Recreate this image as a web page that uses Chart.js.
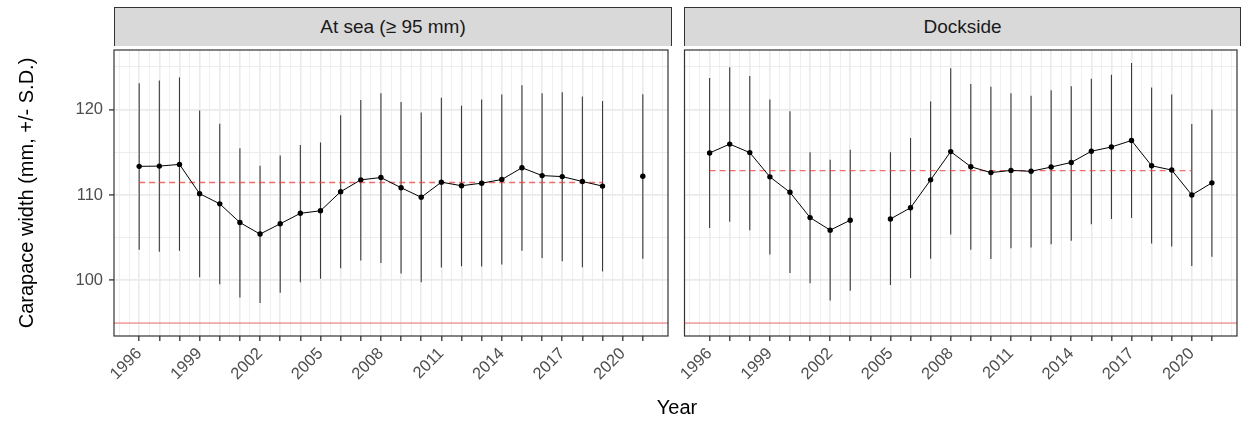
<!DOCTYPE html>
<html>
<head>
<meta charset="utf-8">
<script src="https://cdn.jsdelivr.net/npm/chart.js@4/dist/chart.umd.min.js"></script>
<style>
  body { margin: 0; background: #fff; font-family: "Liberation Sans", Arial, sans-serif; }
  #wrap { position: relative; width: 1241px; height: 421px; overflow: hidden; }
  canvas { position: absolute; }
  .strip {
    position: absolute; top: 7px; height: 38px; box-sizing: content-box;
    background: #d9d9d9; border: 1px solid #333; border-bottom: 0;
    font-size: 19px; color: #1a1a1a; text-align: center; line-height: 38px;
  }
  #xtitle { position: absolute; left: 114px; width: 1126px; top: 396px; text-align: center; font-size: 20px; color: #000; }
</style>
</head>
<body>
<div id="wrap">
  <div class="strip" style="left:114px;width:556px;">At sea (≥ 95 mm)</div>
  <div class="strip" style="left:684px;width:555px;">Dockside</div>
  <canvas id="sea" width="672" height="375" style="left:0;top:46px;"></canvas>
  <canvas id="dock" width="569" height="375" style="left:672px;top:46px;"></canvas>
  <div id="xtitle">Year</div>
</div>
<script>
const years = [1996, 1997, 1998, 1999, 2000, 2001, 2002, 2003, 2004, 2005, 2006, 2007, 2008,
  2009, 2010, 2011, 2012, 2013, 2014, 2015, 2016, 2017, 2018, 2019, 2020, 2021];

// At sea (>= 95 mm): yearly mean and mean +/- S.D.
const seaMean = [113.35, 113.38, 113.58, 110.15, 108.96, 106.77, 105.42, 106.62, 107.85, 108.15, 110.38, 111.77, 112.04,
  110.85, 109.73, 111.5, 111.08, 111.38, 111.81, 113.19, 112.27, 112.15, 111.58, 111.04, null, 112.19];
const seaLower = [103.58, 103.35, 103.46, 100.35, 99.54, 98.0, 97.35, 98.54, 99.77, 100.19, 101.42, 102.31, 102.04,
  100.81, 99.77, 101.5, 101.65, 101.62, 101.85, 103.46, 102.62, 102.23, 101.54, 101.04, null, 102.54];
const seaUpper = [123.08, 123.42, 123.77, 119.88, 118.35, 115.46, 113.42, 114.62, 115.85, 116.15, 119.35, 121.12, 121.92,
  120.88, 119.65, 121.38, 120.46, 121.19, 121.77, 122.85, 121.92, 122.04, 121.54, 121.0, null, 121.81];

// Dockside
const dockMean = [114.92, 115.96, 114.96, 112.12, 110.31, 107.35, 105.88, 107.04, null, 107.19, 108.5, 111.77, 115.08,
  113.31, 112.62, 112.88, 112.77, 113.27, 113.81, 115.12, 115.62, 116.38, 113.42, 112.92, 110.0, 111.42];
const dockLower = [106.12, 106.85, 105.88, 103.04, 100.85, 99.65, 97.65, 98.77, null, 99.46, 100.27, 102.54, 105.38,
  103.58, 102.5, 103.77, 103.85, 104.23, 104.65, 106.58, 107.19, 107.31, 104.31, 103.96, 101.69, 102.77];
const dockUpper = [123.69, 124.96, 123.92, 121.19, 119.81, 115.0, 114.12, 115.31, null, 115.0, 116.69, 120.96, 124.85,
  123.0, 122.69, 121.92, 121.62, 122.27, 122.73, 123.62, 124.08, 125.46, 122.58, 121.77, 118.31, 120.0];

// overall means (dashed) and their year span, minimum size (solid)
const seaOverall = 111.46;
const seaOverallYears = [1996, 2019];
const dockOverall = 112.85;
const dockOverallYears = [1996, 2020];
const minSize = 95;

const yTicks = [95, 100, 105, 110, 115, 120, 125];
const yLabels = [100, 110, 120];
const xLabelEvery = 3;

const FONT = "'Liberation Sans', Arial, sans-serif";
const X_MIN = 1994.75, X_MAX = 2022.25;
const Y_MIN = 93.48, Y_MAX = 126.98;

const isMajorYear = (v) => Number.isInteger(v) && v >= years[0] && v <= years[years.length - 1];

const errorBars = {
  id: "errorBars",
  beforeDatasetsDraw(chart, args, opts) {
    const { ctx, scales } = chart;
    ctx.save();
    ctx.strokeStyle = "#3a3a3a";
    ctx.lineWidth = 1.1;
    years.forEach((yr, i) => {
      if (opts.lower[i] == null) return;
      const x = scales.x.getPixelForValue(yr);
      ctx.beginPath();
      ctx.moveTo(x, scales.y.getPixelForValue(opts.lower[i]));
      ctx.lineTo(x, scales.y.getPixelForValue(opts.upper[i]));
      ctx.stroke();
    });
    ctx.restore();
  },
};

const panelBorder = {
  id: "panelBorder",
  afterDraw(chart) {
    const { ctx, chartArea: a } = chart;
    ctx.save();
    ctx.strokeStyle = "#333";
    ctx.lineWidth = 1.2;
    ctx.strokeRect(a.left, a.top, a.right - a.left, a.bottom - a.top);
    ctx.restore();
  },
};

const makePanel = (canvasId, mean, lower, upper, overall, overallYears, first) => {
  const points = years.map((yr, i) => ({ x: yr, y: mean[i] }));
  const halfYears = [];
  for (let v = 1995; v <= 2022; v += 0.5) halfYears.push(v);

  new Chart(document.getElementById(canvasId), {
    type: "line",
    data: {
      datasets: [
        {
          data: [{ x: X_MIN, y: minSize }, { x: X_MAX, y: minSize }],
          borderColor: "rgba(240, 70, 70, 0.5)",
          borderWidth: 1.5,
          pointRadius: 0,
        },
        {
          data: points,
          borderColor: "#000",
          borderWidth: 1,
          pointRadius: 2.7,
          pointBackgroundColor: "#000",
          pointBorderWidth: 0,
          spanGaps: false,
          tension: 0,
        },
        {
          data: overallYears.map((yr) => ({ x: yr, y: overall })),
          borderColor: "rgba(240, 60, 60, 0.75)",
          borderWidth: 1.4,
          borderDash: [6, 4],
          pointRadius: 0,
        },
      ],
    },
    options: {
      responsive: false,
      animation: false,
      devicePixelRatio: 1,
      layout: { padding: { left: first ? 0 : 12.5, right: 1, top: 0, bottom: 0 } },
      plugins: {
        legend: { display: false },
        tooltip: { enabled: false },
        errorBars: { lower, upper },
      },
      scales: {
        x: {
          type: "linear",
          min: X_MIN,
          max: X_MAX,
          afterBuildTicks: (scale) => {
            scale.ticks = halfYears.map((v) => ({ value: v }));
          },
          afterFit: (scale) => {
            scale.height = 85;
            scale.paddingLeft = 0;
            scale.paddingRight = 0;
          },
          border: { display: false },
          grid: {
            color: "#ebebeb",
            lineWidth: (c) => (c.tick && isMajorYear(c.tick.value) ? 1.6 : 0.8),
            tickColor: (c) => (c.tick && isMajorYear(c.tick.value) ? "#333" : "rgba(0,0,0,0)"),
            tickWidth: 1.3,
            tickLength: 5,
          },
          ticks: {
            autoSkip: false,
            minRotation: 45,
            maxRotation: 45,
            padding: 3,
            color: "#4d4d4d",
            font: { family: FONT, size: 16.5 },
            callback: (v) =>
              isMajorYear(v) && (v - years[0]) % xLabelEvery === 0 ? String(v) : "",
          },
        },
        y: {
          min: Y_MIN,
          max: Y_MAX,
          afterBuildTicks: (scale) => {
            scale.ticks = yTicks.map((v) => ({ value: v }));
          },
          afterFit: (scale) => {
            scale.width = first ? 114 : 0;
            scale.paddingTop = 0;
            scale.paddingBottom = 0;
          },
          border: { display: false },
          grid: {
            color: "#ebebeb",
            lineWidth: (c) => (c.tick && yLabels.includes(c.tick.value) ? 1.8 : 0.9),
            tickColor: (c) => (c.tick && yLabels.includes(c.tick.value) ? "#333" : "rgba(0,0,0,0)"),
            tickWidth: 1.3,
            tickLength: 5,
            drawTicks: first,
          },
          ticks: {
            display: first,
            padding: 6,
            color: "#4d4d4d",
            font: { family: FONT, size: 16.5 },
            callback: (v) => (yLabels.includes(v) ? String(v) : ""),
          },
          title: {
            display: first,
            text: "Carapace width (mm, +/- S.D.)",
            color: "#000",
            font: { family: FONT, size: 20 },
            padding: { top: 15, bottom: 0 },
          },
        },
      },
    },
    plugins: [errorBars, panelBorder],
  });
};

makePanel("sea", seaMean, seaLower, seaUpper, seaOverall, seaOverallYears, true);
makePanel("dock", dockMean, dockLower, dockUpper, dockOverall, dockOverallYears, false);
</script>
</body>
</html>
